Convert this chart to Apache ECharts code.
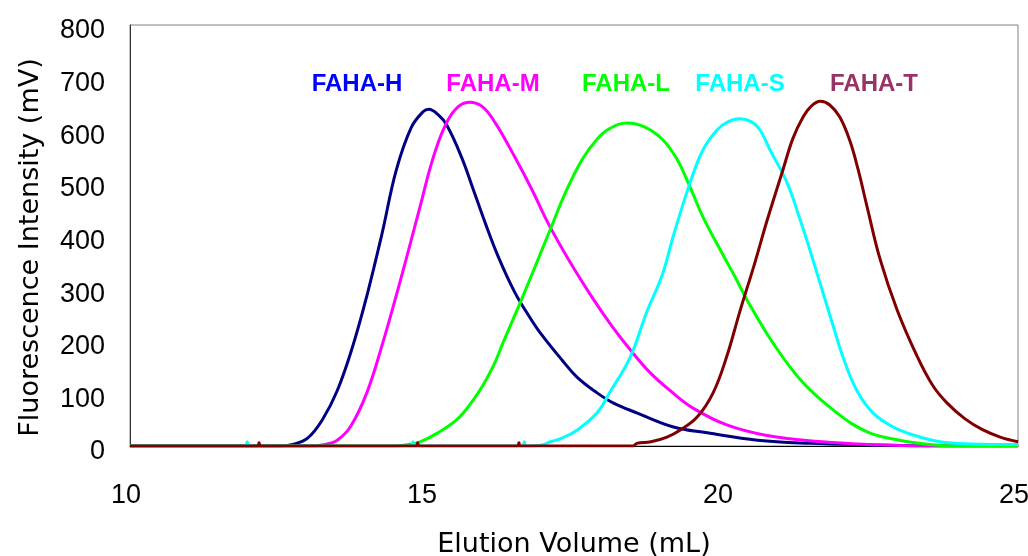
<!DOCTYPE html>
<html>
<head>
<meta charset="utf-8">
<script src="https://cdn.jsdelivr.net/npm/echarts@6/dist/echarts.min.js"></script>
<style>
  html, body { margin: 0; padding: 0; background: #fff; }
  #chart { width: 1028px; height: 556px; }
</style>
</head>
<body>
<div id="chart"></div>
<script>
// elution volume (mL), fluorescence (mV)
var fahaH = [[10,0],[12.5,0],[12.75,3],[13.0,15],[13.25,50],[13.5,105],[13.75,185],[14.0,285],[14.25,400],
  [14.5,525],[14.75,605],[14.95,635],[15.05,640],[15.2,630],[15.35,610],[15.6,549],[15.8,487],[16.0,424],
  [16.22,360],[16.5,292],[16.75,245],[16.93,215],[17.3,163],[17.55,131],[17.89,101],[18.16,82],[18.56,63],
  [19.18,36],[19.75,25],[20.6,11],[21.5,5],[22.5,2],[23.5,0],[25,0]];

var fahaM = [[10,0],[13.0,0],[13.3,3],[13.5,11],[13.72,36],[14.0,101],[14.27,196],[14.51,291],[14.7,370],
  [14.9,455],[15.1,540],[15.3,603],[15.5,640],[15.73,653],[15.95,645],[16.17,614],[16.5,549],
  [16.79,487],[17.06,424],[17.43,350],[17.82,280],[18.14,228],[18.45,183],[18.78,140],[19.18,100],[19.51,72],
  [20.08,40],[20.76,20],[21.7,8],[22.5,3],[23.5,0],[25,0]];

var fahaL = [[10,0],[14.5,0],[14.7,3],[14.9,8],[15.2,25],[15.52,50],[15.75,80],[15.96,115],[16.15,155],
  [16.3,196],[16.59,272],[16.84,340],[17.13,420],[17.35,480],[17.64,545],[17.89,583],[18.1,603],[18.4,614],
  [18.7,606],[19.0,582],[19.24,545],[19.43,500],[19.68,435],[19.97,373],[20.25,315],[20.42,278],[20.86,196],
  [21.37,120],[21.94,63],[22.45,27],[23.0,11],[23.5,3],[24,0],[25,0]];

var fahaS = [[10,0],[11.95,0],[11.98,8],[12.01,0],[14.76,0],[14.78,8],[14.8,0],[16.64,0],[16.66,8],[16.68,0],
  [16.96,2],[17.1,8],[17.3,15],[17.55,30],[17.89,63],[18.1,101],[18.45,169],[18.73,255],[18.99,325],
  [19.18,400],[19.46,500],[19.68,563],[19.92,601],[20.1,616],[20.3,622],[20.5,616],[20.64,601],[20.81,563],
  [21.1,500],[21.29,440],[21.45,385],[21.6,330],[21.75,275],[21.9,220],[22.04,170],[22.28,105],[22.55,63],
  [22.89,36],[23.23,21],[23.68,8],[24.2,4],[25,3]];

var fahaT = [[10,0],[12.16,0],[12.18,6],[12.2,0],[14.84,0],[14.86,6],[14.88,0],[16.55,0],[16.57,6],[16.59,0],
  [18.5,0],[18.56,5],[18.8,8],[19.07,17],[19.29,30],[19.58,55],[19.85,101],[20.08,170],[20.3,255],[20.56,350],
  [20.76,428],[21.03,525],[21.2,585],[21.37,625],[21.5,645],[21.66,655],[21.82,648],[21.99,625],[22.16,580],
  [22.3,525],[22.45,455],[22.67,355],[22.96,258],[23.29,172],[23.56,115],[23.8,82],[24.1,52],[24.4,31],
  [24.7,17],[25,8]];

var names = ['FAHA-H', 'FAHA-M', 'FAHA-L', 'FAHA-S', 'FAHA-T'];
var lineColors = ['#000080', '#ff00ff', '#00ff00', '#00ffff', '#800000'];
var labelColors = ['#0000ff', '#ff00ff', '#00ff00', '#00ffff', '#993366'];
var labelX = [357, 493, 626, 740, 874];

var seriesData = [fahaH, fahaM, fahaL, fahaS, fahaT];

var chart = echarts.init(document.getElementById('chart'));

var series = [];
var drawOrder = [3, 2, 1, 0, 4];
drawOrder.forEach(function (i) {
  series.push({
    name: names[i],
    type: 'line',
    data: seriesData[i],
    showSymbol: false,
    smooth: 0.4,
    clip: true,
    lineStyle: { color: lineColors[i], width: 3 },
    z: 2 + i
  });
});

var labels = names.map(function (n, i) {
  return {
    type: 'text',
    x: labelX[i],
    y: 84,
    style: {
      text: n,
      fill: labelColors[i],
      font: 'bold 24px "Liberation Sans", Arial, sans-serif',
      align: 'center',
      verticalAlign: 'middle'
    }
  };
});

chart.setOption({
  animation: false,
  backgroundColor: '#fff',
  grid: {
    left: 130, right: 10, top: 25, bottom: 110,
    outerBoundsMode: 'none',
    show: true, borderColor: '#808080', borderWidth: 1
  },
  xAxis: {
    type: 'value',
    min: 10, max: 25, interval: 5,
    name: 'Elution Volume (mL)',
    nameLocation: 'middle',
    nameGap: 85,
    nameTextStyle: { fontSize: 27, color: '#000', fontFamily: '"DejaVu Sans", sans-serif' },
    axisLine: { show: true, lineStyle: { color: '#000', width: 1 } },
    axisTick: { show: false },
    splitLine: { show: false },
    axisLabel: { fontSize: 27, color: '#000', margin: 36, padding: [0, 8, 0, 0], fontFamily: '"Liberation Sans", Arial, sans-serif' }
  },
  yAxis: {
    type: 'value',
    min: 0, max: 800, interval: 100,
    name: 'Fluorescence Intensity (mV)',
    nameLocation: 'middle',
    nameRotate: 90,
    nameGap: 86,
    nameTextStyle: { fontSize: 27, color: '#000', fontFamily: '"DejaVu Sans", sans-serif', padding: [0, 24, 0, 0] },
    axisLine: { show: true, lineStyle: { color: '#333', width: 1 } },
    axisTick: { show: false },
    splitLine: { show: false },
    axisLabel: { fontSize: 27, color: '#000', margin: 25, verticalAlign: 'top', lineHeight: 12, fontFamily: '"Liberation Sans", Arial, sans-serif' }
  },
  graphic: labels,
  series: series
});
</script>
</body>
</html>
